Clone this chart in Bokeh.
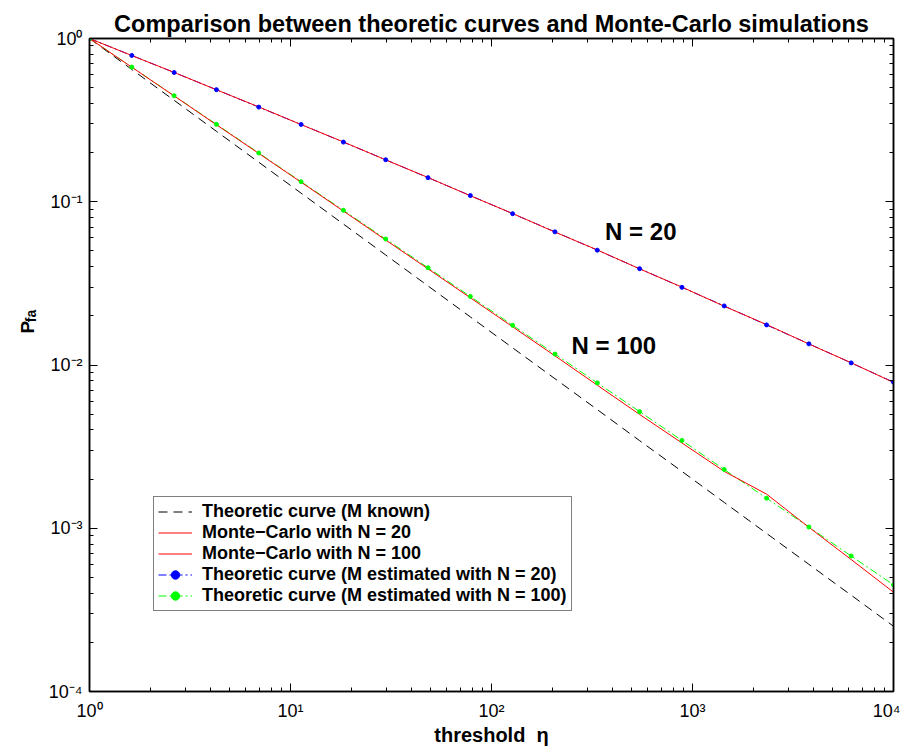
import numpy as np
from bokeh.plotting import figure
from bokeh.layouts import row
from bokeh.models import (Range1d, Legend, LegendItem, Label, LogAxis, FixedTicker)
from bokeh.embed import file_html
from bokeh.resources import INLINE

# threshold eta grid (20 log-spaced points)
eta = [1.0, 1.624, 2.637, 4.281, 6.952, 11.29, 18.33, 29.76, 48.33, 78.48,
       127.4, 206.9, 336.0, 545.6, 885.9, 1438.0, 2336.0, 3793.0, 6158.0, 10000.0]

# Theoretic curve (M known)
pfa_known = [1.0, 0.646, 0.418, 0.270, 0.1746, 0.1129, 0.0730, 0.0472, 0.0305, 0.0197,
             0.01274, 0.00824, 0.00533, 0.00344, 0.00223, 0.00144, 0.000930, 0.000601,
             0.000389, 0.000251]

# Monte-Carlo N = 20
pfa_mc20 = [1.0, 0.786, 0.620, 0.485, 0.381, 0.2970, 0.2325, 0.1805, 0.1408, 0.1088,
            0.0847, 0.0652, 0.0507, 0.0388, 0.0300, 0.0229, 0.0177, 0.01345, 0.01032, 0.00782]

# Monte-Carlo N = 100
pfa_mc100 = [1.0, 0.667, 0.445, 0.296, 0.1977, 0.1318, 0.0877, 0.0583, 0.0388, 0.0258,
             0.01714, 0.01138, 0.00752, 0.00498, 0.00333, 0.00223, 0.001618, 0.001014,
             0.000643, 0.000406]

# Theoretic curve (M estimated with N = 20)
pfa_est20 = [1.0, 0.787, 0.619, 0.486, 0.380, 0.2974, 0.2320, 0.1808, 0.1405, 0.1091,
             0.0845, 0.0654, 0.0505, 0.0389, 0.0299, 0.0230, 0.0176, 0.01348, 0.01030, 0.00785]

# Theoretic curve (M estimated with N = 100)
pfa_est100 = [1.0, 0.668, 0.446, 0.298, 0.1989, 0.1327, 0.0886, 0.0591, 0.0394, 0.0263,
              0.01750, 0.01167, 0.00777, 0.00518, 0.00345, 0.00229, 0.001528, 0.001017,
              0.000676, 0.000450]

x_major = [1, 10, 100, 1000, 10000]
y_major = [1e-4, 1e-3, 1e-2, 1e-1, 1]
x_labels = {1: "10\u2070", 10: "10\u00b9", 100: "10\u00b2", 1000: "10\u00b3", 10000: "10\u2074"}
y_labels = {1e-4: "10\u207b\u2074", 1e-3: "10\u207b\u00b3", 1e-2: "10\u207b\u00b2",
            1e-1: "10\u207b\u00b9", 1: "10\u2070"}

FONT = "Liberation Sans"
H = 748
LAB_W = 45

# ---- narrow strip holding the rotated y-axis label P_fa ----
lab = figure(width=LAB_W, height=H, x_range=Range1d(0, LAB_W), y_range=Range1d(0, H),
             output_backend="svg", toolbar_location=None,
             x_axis_location=None, y_axis_location=None,
             min_border_left=0, min_border_right=0, min_border_top=0, min_border_bottom=0)
lab.outline_line_color = None
lab.xgrid.visible = False
lab.ygrid.visible = False
lab.add_layout(Label(x=27, y=H - 338, text="P", angle=np.pi / 2, text_font=FONT,
                     text_font_size="19px", text_font_style="bold", text_align="left",
                     text_baseline="alphabetic", text_color="black"))
lab.add_layout(Label(x=30, y=H - 325, text="fa", angle=np.pi / 2, text_font=FONT,
                     text_font_size="14px", text_font_style="bold", text_align="left",
                     text_baseline="alphabetic", text_color="black"))

# ---- main plot ----
p = figure(width=900 - LAB_W, height=H, x_axis_type="log", y_axis_type="log",
           x_range=Range1d(1, 1e4), y_range=Range1d(1e-4, 1),
           output_backend="svg", toolbar_location=None,
           min_border_left=88 - LAB_W, min_border_right=7, min_border_top=38,
           min_border_bottom=55,
           title="Comparison between theoretic curves and Monte-Carlo simulations")
p.title.text_font = FONT
p.title.text_font_size = "23.5px"
p.title.text_font_style = "bold"
p.title.text_color = "black"
p.title.align = "center"
p.title.offset = 20
p.title.standoff = 4
p.xgrid.visible = False
p.ygrid.visible = False
p.outline_line_color = "black"
p.outline_line_width = 1.5
p.background_fill_color = "white"
p.border_fill_color = "white"

x_minor = [m * 10 ** e for e in range(0, 4) for m in range(2, 10)]
y_minor = [m * 10.0 ** e for e in range(-4, 0) for m in range(2, 10)]

def style_axis(ax, ticks, minor, labels, show):
    ax.ticker = FixedTicker(ticks=ticks, minor_ticks=minor)
    ax.axis_line_color = "black"
    ax.axis_line_width = 1.5
    ax.major_tick_in = 8
    ax.major_tick_out = 0
    ax.minor_tick_in = 4
    ax.minor_tick_out = 0
    ax.major_tick_line_color = "black"
    ax.minor_tick_line_color = "black"
    if show:
        ax.major_label_overrides = labels
        ax.major_label_text_font = FONT
        ax.major_label_text_font_size = "18px"
        ax.major_label_text_color = "black"
    else:
        ax.major_label_overrides = {k: "" for k in labels}
        ax.major_label_text_font_size = "0px"
        ax.major_label_standoff = 0

style_axis(p.xaxis[0], x_major, x_minor, x_labels, True)
style_axis(p.yaxis[0], y_major, y_minor, y_labels, True)
p.xaxis[0].major_label_standoff = 9
p.yaxis[0].major_label_standoff = 7
p.xaxis[0].axis_label = "threshold\u00a0\u00a0\u03b7"
p.xaxis[0].axis_label_text_font = FONT
p.xaxis[0].axis_label_text_font_size = "20px"
p.xaxis[0].axis_label_text_font_style = "bold"
p.xaxis[0].axis_label_text_color = "black"
p.xaxis[0].axis_label_standoff = 0

top_ax = LogAxis()
style_axis(top_ax, x_major, x_minor, x_labels, False)
p.add_layout(top_ax, "above")
right_ax = LogAxis()
style_axis(right_ax, y_major, y_minor, y_labels, False)
p.add_layout(right_ax, "right")

# curves (dash-dot theory lines under the red Monte-Carlo lines, markers on top)
r_known = p.line(eta, pfa_known, line_color="black", line_width=1, line_dash="9 6")
r_e20 = p.line(eta, pfa_est20, line_color="#0000ff", line_width=1, line_dash="8 3 2 3")
r_e100 = p.line(eta, pfa_est100, line_color="#00ff00", line_width=1, line_dash="8 3 2 3")
r_mc20 = p.line(eta, pfa_mc20, line_color="#ff0000", line_width=1)
r_mc100 = p.line(eta, pfa_mc100, line_color="#ff0000", line_width=1)
r_e20m = p.scatter(eta, pfa_est20, size=4, color="#0000ff")
r_e100m = p.scatter(eta, pfa_est100, size=4, color="#00ff00")

legend = Legend(items=[
    LegendItem(label="Theoretic curve (M known)", renderers=[r_known]),
    LegendItem(label="Monte\u2212Carlo with N = 20", renderers=[r_mc20]),
    LegendItem(label="Monte\u2212Carlo with N = 100", renderers=[r_mc100]),
    LegendItem(label="Theoretic curve (M estimated with N = 20)", renderers=[r_e20, r_e20m]),
    LegendItem(label="Theoretic curve (M estimated with N = 100)", renderers=[r_e100, r_e100m]),
], location=(64, 80))
legend.label_text_font = FONT
legend.label_text_font_size = "18px"
legend.label_text_font_style = "bold"
legend.label_text_color = "black"
legend.label_height = 21
legend.glyph_height = 21
legend.glyph_width = 34
legend.spacing = 0
legend.padding = 4
legend.margin = 0
legend.border_line_color = "black"
legend.border_line_width = 1
legend.background_fill_color = "white"
legend.background_fill_alpha = 1
legend.label_standoff = 10
p.add_layout(legend, "center")

# annotations
p.add_layout(Label(x=553, y=0.0653, text="N = 20", text_font=FONT, text_font_size="24px",
                   text_font_style="bold", text_align="center", text_baseline="middle",
                   text_color="black"))
p.add_layout(Label(x=406, y=0.01315, text="N = 100", text_font=FONT, text_font_size="24px",
                   text_font_style="bold", text_align="center", text_baseline="middle",
                   text_color="black"))

layout = row(lab, p, spacing=0)
open("out.html", "w").write(file_html(layout, INLINE))
